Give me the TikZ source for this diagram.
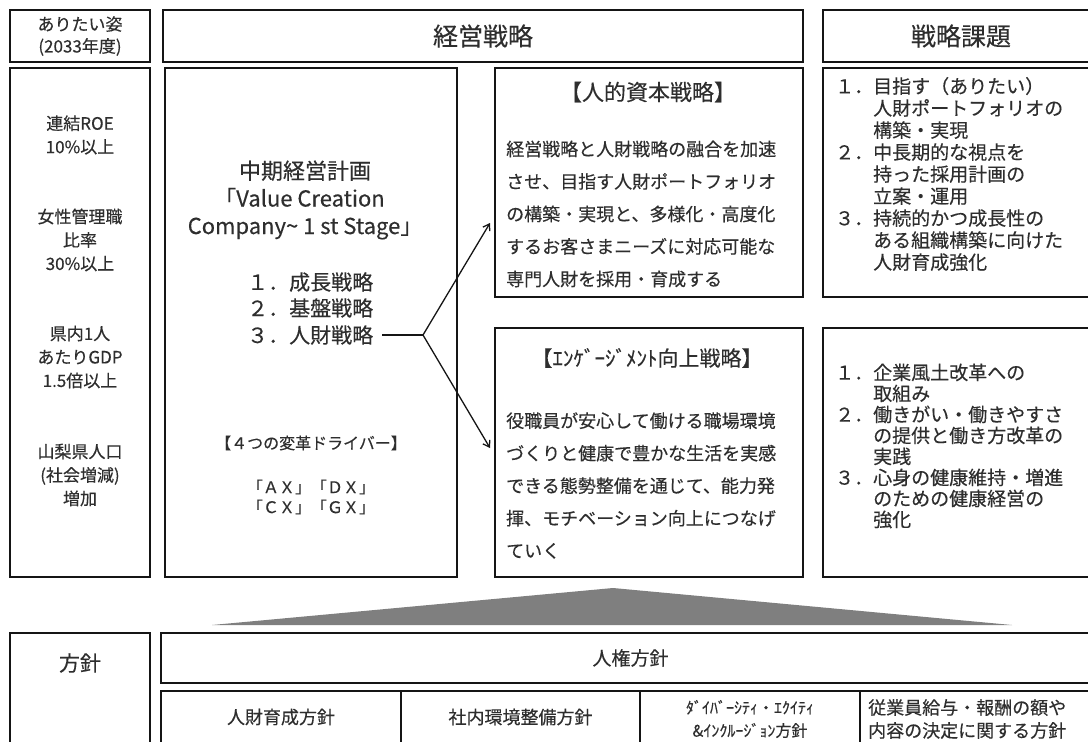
\documentclass[tikz,border=0pt]{standalone}
\usepackage{fontspec}
\setmainfont{Noto Sans CJK JP}[FakeBold=0.35]
\usetikzlibrary{arrows.meta}
\definecolor{ourtext}{HTML}{2E2E2E}
\definecolor{ourline}{HTML}{151515}
\definecolor{ourgray}{HTML}{7F7F7F}
\newcommand{\listindent}{\hspace*{2em}}

\begin{document}
\begin{tikzpicture}[x=1pt,y=-1pt]

  \tikzstyle{frame}=[draw=ourline, line width=2.4pt, inner sep=0pt, text=ourtext]
  \tikzstyle{txt}=[text=ourtext, inner sep=0pt, align=center]
  \tikzstyle{body}=[txt, align=left, font=\fontsize{18}{32.5}\selectfont]
  \tikzstyle{goal}=[txt, font=\fontsize{17}{23.5}\selectfont]
  \tikzstyle{issue}=[txt, align=left, anchor=west]
  \tikzstyle{planitem}=[txt, anchor=west, font=\fontsize{21}{26}\selectfont]
  \tikzstyle{policy}=[txt, font=\fontsize{18}{23}\selectfont]
  \tikzstyle{link}=[draw=ourline, line width=1.3pt]

  \useasboundingbox (0,0) rectangle (1088,742);
  \clip (0,0) rectangle (1088,742);

  % header row
  \path
  (80,  36) node[frame, minimum width=140pt, minimum height=52pt, align=center,
                 font=\fontsize{17}{22}\selectfont](goalhead){ありたい姿\\(2033年度)}
  (483, 36) node[frame, minimum width=640pt, minimum height=52pt,
                 font=\fontsize{25}{30}\selectfont](mgmthead){経営戦略}
  (961, 36) node[frame, minimum width=276pt, minimum height=52pt,
                 font=\fontsize{25}{30}\selectfont](issuehead){戦略課題};

  % main boxes
  \path
  (80,  322.5) node[frame, minimum width=140pt, minimum height=509pt](goalbox){}
  (311, 322.5) node[frame, minimum width=292pt, minimum height=509pt](planbox){}
  (649, 182.5) node[frame, minimum width=308pt, minimum height=229pt](hcbox){}
  (649, 452.5) node[frame, minimum width=308pt, minimum height=249pt](engbox){}
  (961, 182.5) node[frame, minimum width=276pt, minimum height=229pt](issueup){}
  (961, 452.5) node[frame, minimum width=276pt, minimum height=249pt](issuelow){};

  % goals
  \path
  (80, 135) node[goal](goalroe){連結ROE\\10\%以上}
  (80, 240) node[goal](goalwomen){女性管理職\\比率\\30\%以上}
  (80, 357) node[goal](goalgdp){県内1人\\あたりGDP\\1.5倍以上}
  (80, 475) node[goal](goalpop){山梨県人口\\(社会増減)\\増加};

  % mid-term plan
  \path
  (305, 200) node[txt, font=\fontsize{22}{27.5}\selectfont](plantitle)
    {中期経営計画\\｢Value Creation\\Company\textasciitilde\ 1 st Stage」}
  (247, 282) node[planitem](plan1){１．成長戦略}
  (247, 308) node[planitem](plan2){２．基盤戦略}
  (247, 335) node[planitem](plan3){３．人財戦略}
  (311, 443) node[txt, font=\fontsize{16}{20}\selectfont](driverhead){【４つの変革ドライバー】}
  (311, 497) node[txt, font=\fontsize{16}{20}\selectfont](drivers){「ＡＸ」「ＤＸ」\\「ＣＸ」「ＧＸ」};

  % strategies
  \path
  (648, 92)  node[txt, font=\fontsize{22}{26}\selectfont](hctitle){【人的資本戦略】}
  (506, 214) node[body, anchor=west](hctext)
    {経営戦略と人財戦略の融合を加速\\させ、目指す人財ポートフォリオ\\の構築・実現と、多様化・高度化\\するお客さまニーズに対応可能な\\専門人財を採用・育成する}
  (647, 358) node[txt, font=\fontsize{21}{24}\selectfont](engtitle){【ｴﾝｹﾞｰｼﾞﾒﾝﾄ向上戦略】}
  (506, 485.5) node[body, anchor=west](engtext)
    {役職員が安心して働ける職場環境\\づくりと健康で豊かな生活を実感\\できる態勢整備を通じて、能力発\\揮、モチベーション向上につなげ\\ていく};

  % issues
  \path
  (835, 174) node[issue, font=\fontsize{19}{22}\selectfont](issuehc)
    {１．目指す（ありたい）\\\listindent 人財ポートフォリオの\\\listindent 構築・実現\\
     ２．中長期的な視点を\\\listindent 持った採用計画の\\\listindent 立案・運用\\
     ３．持続的かつ成長性の\\\listindent ある組織構築に向けた\\\listindent 人財育成強化}
  (835, 446) node[issue, font=\fontsize{19}{21}\selectfont](issueeng)
    {１．企業風土改革への\\\listindent 取組み\\
     ２．働きがい・働きやすさ\\\listindent の提供と働き方改革の\\\listindent 実践\\
     ３．心身の健康維持・増進\\\listindent のための健康経営の\\\listindent 強化};

  % plan -> strategies
  \coordinate (fork) at (423, 335);
  \coordinate (hcin) at (490, 223);
  \coordinate (engin) at (490, 448);
  \draw[link] ([xshift=9pt]plan3.east) -- (fork);
  \draw[link, -{Straight Barb[length=6pt, width=8pt]}] (fork) -- (hcin);
  \draw[link, -{Straight Barb[length=6pt, width=8pt]}] (fork) -- (engin);

  % base
  \fill[ourgray] (212, 625) -- (613, 588) -- (1012, 625) -- cycle;

  % policies
  \path
  (80,  696)   node[frame, minimum width=140pt, minimum height=126pt](policyhead){}
  (80,  663)   node[txt, font=\fontsize{21}{25}\selectfont](policylabel){方針}
  (630.5, 658) node[frame, minimum width=939pt, minimum height=50pt,
                    font=\fontsize{19}{23}\selectfont](rights){人権方針}
  (281, 726)   node[frame, minimum width=240pt, minimum height=70pt](polA){}
  (520.5, 726) node[frame, minimum width=239pt, minimum height=70pt](polB){}
  (750, 726)   node[frame, minimum width=220pt, minimum height=70pt](polC){}
  (980, 726)   node[frame, minimum width=240pt, minimum height=70pt](polD){};

  \path
  (281, 717)   node[policy](polAtext){人財育成方針}
  (520.5, 717) node[policy](polBtext){社内環境整備方針}
  (750, 719)   node[policy, font=\fontsize{16}{23}\selectfont](polCtext)
    {ﾀﾞｲﾊﾞｰｼﾃｨ・ｴｸｲﾃｨ\\\&ｲﾝｸﾙｰｼﾞｮﾝ方針}
  (868, 719)   node[policy, align=left, anchor=west](polDtext)
    {従業員給与・報酬の額や\\内容の決定に関する方針};

\end{tikzpicture}
\end{document}
